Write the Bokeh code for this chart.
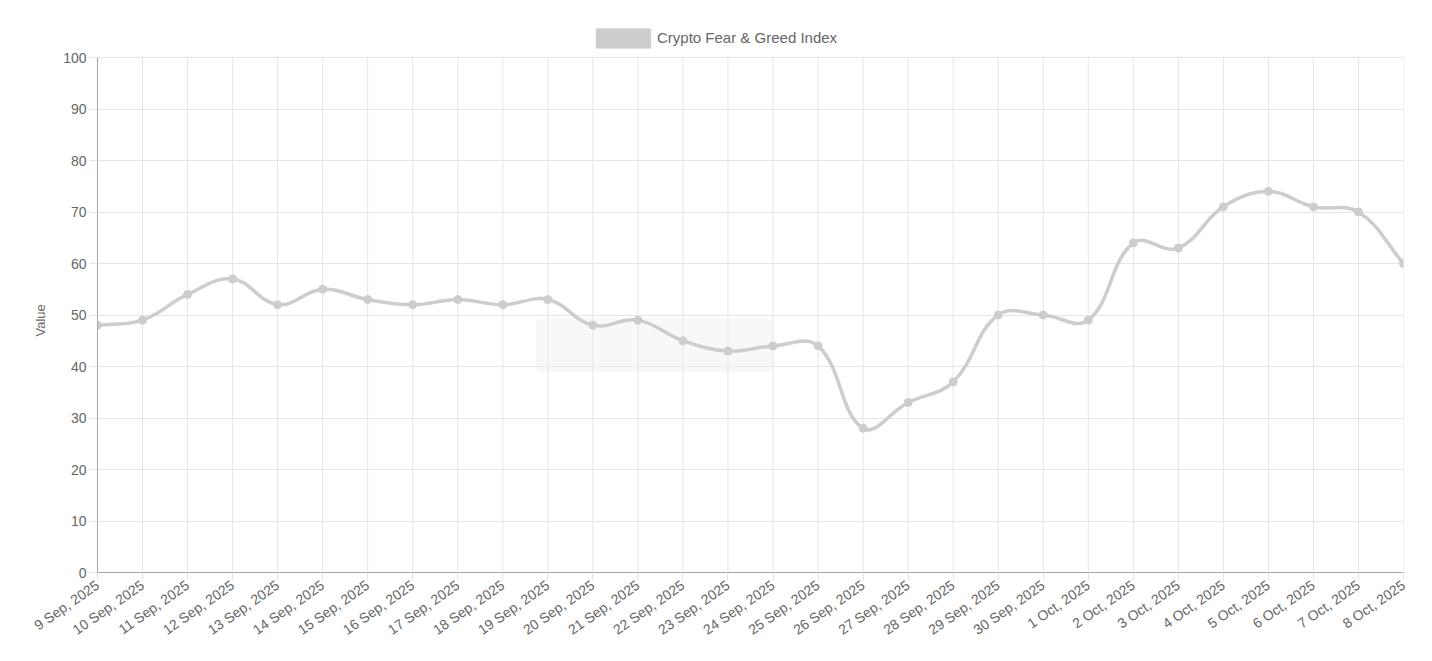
import math
from bokeh.plotting import figure
from bokeh.models import (Range1d, FixedTicker, Legend, LegendItem, BoxAnnotation,
                          ColumnDataSource, Title)
from bokeh.embed import file_html
from bokeh.resources import INLINE

# ---- data ----
dates = ["9 Sep, 2025", "10 Sep, 2025", "11 Sep, 2025", "12 Sep, 2025", "13 Sep, 2025",
         "14 Sep, 2025", "15 Sep, 2025", "16 Sep, 2025", "17 Sep, 2025", "18 Sep, 2025",
         "19 Sep, 2025", "20 Sep, 2025", "21 Sep, 2025", "22 Sep, 2025", "23 Sep, 2025",
         "24 Sep, 2025", "25 Sep, 2025", "26 Sep, 2025", "27 Sep, 2025", "28 Sep, 2025",
         "29 Sep, 2025", "30 Sep, 2025", "1 Oct, 2025", "2 Oct, 2025", "3 Oct, 2025",
         "4 Oct, 2025", "5 Oct, 2025", "6 Oct, 2025", "7 Oct, 2025", "8 Oct, 2025"]
values = [48, 49, 54, 57, 52, 55, 53, 52, 53, 52,
          53, 48, 49, 45, 43, 44, 44, 28, 33, 37,
          50, 50, 49, 64, 63, 71, 74, 71, 70, 60]
series_name = "Crypto Fear & Greed Index"
y_title = "Value"
y_ticks = list(range(0, 101, 10))

# ---- layout ----
PLOT_W, PLOT_H = 1306, 515      # data area (0..100)
TOP_PAD = 57                    # legend strip above the data area (inside the frame)
Y_MAX = 100
FONT = "Liberation Sans"
LINE_COLOR = "#cdcdcd"
TEXT_COLOR = "#666666"
GRID_COLOR = "#e5e5e5"

xs = list(range(len(values)))
n = len(values)

sx = PLOT_W / (n - 1)
sy = PLOT_H / Y_MAX
y_top = Y_MAX + TOP_PAD / sy

# Chart.js-like spline (tension 0.4), computed in pixel-proportional space
T = 0.4
P = [(x * sx, v * sy) for x, v in zip(xs, values)]
cp_prev, cp_next = [], []
for i in range(n):
    prev = P[i - 1] if i > 0 else P[0]
    cur = P[i]
    nxt = P[i + 1] if i < n - 1 else P[n - 1]
    d01 = math.dist(cur, prev)
    d12 = math.dist(nxt, cur)
    tot = d01 + d12
    s01 = d01 / tot if tot else 0
    s12 = d12 / tot if tot else 0
    fa, fb = T * s01, T * s12
    cp_prev.append((cur[0] - fa * (nxt[0] - prev[0]), cur[1] - fa * (nxt[1] - prev[1])))
    cp_next.append((cur[0] + fb * (nxt[0] - prev[0]), cur[1] + fb * (nxt[1] - prev[1])))

seg = dict(x0=[], y0=[], x1=[], y1=[], cx0=[], cy0=[], cx1=[], cy1=[])
for i in range(n - 1):
    seg["x0"].append(xs[i]); seg["y0"].append(values[i])
    seg["x1"].append(xs[i + 1]); seg["y1"].append(values[i + 1])
    seg["cx0"].append(cp_next[i][0] / sx); seg["cy0"].append(cp_next[i][1] / sy)
    seg["cx1"].append(cp_prev[i + 1][0] / sx); seg["cy1"].append(cp_prev[i + 1][1] / sy)

p = figure(frame_width=PLOT_W, frame_height=PLOT_H + TOP_PAD,
           x_range=Range1d(0, n - 1), y_range=Range1d(0, y_top),
           output_backend="svg", toolbar_location=None,
           min_border_left=97, min_border_right=21, min_border_top=0, min_border_bottom=60,
           background_fill_color="white", border_fill_color="white")
p.outline_line_color = None

# faint leftover tooltip box
p.add_layout(BoxAnnotation(left=9.73, right=14.99, bottom=39.0, top=49.3,
                           fill_color="#f2f2f2", fill_alpha=0.5, line_alpha=0,
                           border_radius=6, level="underlay"))

# vertical grid lines limited to the data area
p.segment(x0=xs, y0=[0] * n, x1=xs, y1=[Y_MAX] * n, line_color=GRID_COLOR, line_width=1)

src = ColumnDataSource(seg)
p.bezier(x0="x0", y0="y0", x1="x1", y1="y1", cx0="cx0", cy0="cy0", cx1="cx1", cy1="cy1",
         source=src, line_color=LINE_COLOR, line_width=3.5)
p.scatter(xs, values, size=8, fill_color=LINE_COLOR, line_color=LINE_COLOR)

# legend (inside the frame's top strip); area glyphs are drawn inset by 10 %
nan = float("nan")
dummy = p.quad(left=[nan], right=[nan], top=[nan], bottom=[nan], fill_color=LINE_COLOR,
               line_color=LINE_COLOR)
GW, GH = 54 / 0.8, 19 / 0.8
legend = Legend(items=[LegendItem(label=series_name, renderers=[dummy])],
                location=(492, PLOT_H + TOP_PAD - 49.5), orientation="horizontal",
                glyph_width=int(round(GW)), glyph_height=int(round(GH)), label_standoff=0,
                padding=0, margin=0, spacing=0,
                border_line_alpha=0, background_fill_alpha=0,
                label_text_font=FONT, label_text_font_size="15px",
                label_text_color=TEXT_COLOR, label_height=int(round(GH)))
p.add_layout(legend, "center")

# axes
p.xaxis.ticker = FixedTicker(ticks=xs)
p.xaxis.major_label_overrides = {i: d for i, d in zip(xs, dates)}
p.xaxis.major_label_orientation = 0.61
p.yaxis.ticker = FixedTicker(ticks=y_ticks)
p.yaxis.bounds = (0, Y_MAX)
for ax in (p.xaxis, p.yaxis):
    ax.major_label_text_font = FONT
    ax.major_label_text_font_size = "14px"
    ax.major_label_text_color = TEXT_COLOR
    ax.major_tick_line_color = GRID_COLOR
    ax.major_tick_out = 8
    ax.major_tick_in = 0
    ax.minor_tick_line_color = None
    ax.axis_line_color = "#a6a6a6"
    ax.major_label_standoff = 3

# y-axis title, centred on the 0..100 data area
p.add_layout(Title(text=y_title, align="left", offset=236, standoff=26,
                   text_font=FONT, text_font_size="13px", text_font_style="normal",
                   text_color=TEXT_COLOR), "left")

p.xgrid.visible = False
p.ygrid.ticker = FixedTicker(ticks=y_ticks)
p.ygrid.grid_line_color = GRID_COLOR

open("out.html", "w").write(file_html(p, INLINE))
